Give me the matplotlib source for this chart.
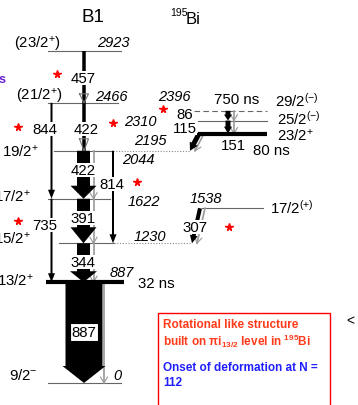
import numpy as np
import matplotlib
matplotlib.use('Agg')
from matplotlib import pyplot as plt
from matplotlib.patches import Rectangle

plt.rcParams['font.family'] = ['Liberation Sans', 'DejaVu Sans']
plt.rcParams['mathtext.fontset'] = 'custom'
plt.rcParams['mathtext.rm'] = 'Liberation Sans'
plt.rcParams['mathtext.it'] = 'Liberation Sans:italic'
plt.rcParams['mathtext.bf'] = 'Liberation Sans:bold'

# ---- level data (keV) ----
level_E = [0, 887, 1230, 1622, 2044, 2466, 2923, 2195, 2310, 2396, 1538]
level_spin = [r'9/2$^{-}$', r'13/2$^{+}$', r'15/2$^{+}$', r'17/2$^{+}$', r'19/2$^{+}$',
              r'(21/2$^{+}$)', r'(23/2$^{+}$)', r'23/2$^{+}$', r'25/2$^{(-)}$',
              r'29/2$^{(-)}$', r'17/2$^{(+)}$']
level_life = {887: '32 ns', 2195: '80 ns', 2396: '750 ns'}

# ---- gamma transitions (keV) ----
gamma_E = [457, 844, 422, 422, 391, 814, 735, 344, 887, 86, 115, 151, 307]
gamma_from = [2923, 2466, 2466, 2044, 1622, 2044, 1622, 1230, 887, 2396, 2310, 2195, 1538]
gamma_to = [2466, 1622, 2044, 1622, 1230, 1230, 887, 887, 0, 2310, 2195, 2044, 1230]

# ---- layout (pixels, y=384 px is E=0, 0.1136 px/keV) ----
K = 0.1136
Y0 = 384.0
def E2py(E):
    return Y0 - K*E
def py2E(y):
    return (Y0 - y)/K

# level drawing: x start, solid end, dotted end, style
lev_x = {0: (48, 121, None, 'thin'), 887: (46, 124, None, 'thick'),
         1230: (59, 114, 190, 'thin'), 1622: (48, 110, None, 'thin'),
         2044: (54, 113, 190, 'thin'), 2466: (48, 118, None, 'thin'),
         2923: (48, 121, None, 'thin'), 2195: (198, 267, None, 'thick'),
         2310: (198, 267, None, 'thin'), 2396: (194, 267, None, 'dash'),
         1538: (202, 263, None, 'thin')}
# label positions (left x, y px)
spin_pos = {0: (9, 376), 887: (-3, 281), 1230: (-6, 239), 1622: (-6, 197),
            2044: (2, 152), 2466: (16, 97), 2923: (14, 44), 2195: (277, 136),
            2310: (277, 119), 2396: (275, 101), 1538: (270, 208)}
energy_pos = {0: (113, 376), 887: (110, 273), 1230: (134, 237), 1622: (128, 202),
              2044: (122, 160), 2466: (95, 97), 2923: (97, 43), 2195: (134, 141),
              2310: (124, 122), 2396: (158, 97), 1538: (190, 199)}
life_pos = {887: (138, 284), 2195: (253, 151), 2396: (214, 100)}

# gamma arrows: x start, x end, shaft w, head w, head len, kind, conv offset
g_style = [
    (84, 84, 3.5, 9, 9, 'open', None),
    (51.5, 51.5, 2, 7, 9, 'solid', None),
    (84, 84, 3.5, 9, 12, 'open', None),
    (83.5, 83.5, 13, 26, 13, 'solid', 10),
    (83.5, 83.5, 13, 26, 16, 'solid', 10),
    (113, 113, 2, 7, 9, 'solid', None),
    (51.5, 51.5, 2, 7, 9, 'solid', None),
    (83.5, 83.5, 13, 27, 11, 'solid', 10),
    (84, 84, 37, 43, 17, 'solid', 20),
    (228, 228, 5, 8, 6, 'solid', 6),
    (228, 228, 5, 8, 7, 'solid', 6),
    (199, 190, 5, 9, 8, 'solid', 5),
    (200, 192, 4, 8, 8, 'solid', 5),
]
g_label = [(83, 79), (45, 130), (86, 130), (83, 171), (83, 219), (112, 185),
           (45, 226), (83, 263), (84, 333), (185, 115), (185, 129), (233, 146), (195, 228)]
star_pos = [(57, 75), (18, 128), (113, 124), (163, 110), (137, 183), (18, 222), (229, 228)]

fig = plt.figure(figsize=(3.58, 4.06), dpi=100)
ax = fig.add_axes([0, 0, 1, 1])
ax.set_xlim(0, 358)
ax.set_ylim(py2E(406), py2E(0))
ax.axis('off')


def poly_px(pts, **kw):
    pts = np.asarray(pts, dtype=float)
    ax.fill(pts[:, 0], py2E(pts[:, 1]), **kw)


def arrow(x0, E0, x1, E1, w, hw, hl, kind, color='black', z=3):
    p0 = np.array([x0, E2py(E0)])
    p1 = np.array([x1, E2py(E1)])
    d = p1 - p0
    u = d/np.linalg.norm(d)
    n = np.array([-u[1], u[0]])
    b = p1 - u*hl
    if kind == 'solid':
        pts = [p0 + n*w/2, b + n*w/2, b + n*hw/2, p1, b - n*hw/2, b - n*w/2, p0 - n*w/2]
        poly_px(pts, color=color, lw=0, zorder=z)
    else:
        ax.plot([x0, x1], [E0, E1], color=color, lw=w*0.72, solid_capstyle='butt', zorder=z)
        tri = np.array([b + n*hw/2, p1, b - n*hw/2, b + n*hw/2])
        ax.plot(tri[:, 0], py2E(tri[:, 1]), color='#777777', lw=0.8, zorder=z+1)


def conv_arrow(x0, E0, x1, E1, off, hl):
    # thin grey arrow for the converted part
    p0 = np.array([x0 + off, E2py(E0)])
    p1 = np.array([x1 + off, E2py(E1)])
    d = p1 - p0
    u = d/np.linalg.norm(d)
    n = np.array([-u[1], u[0]])
    b = p1 - u*min(hl, 6)
    ax.plot([p0[0], p1[0]], py2E(np.array([p0[1], p1[1]])), color='#9a9a9a', lw=1.2, zorder=2)
    tri = np.array([b + n*3.5, p1, b - n*3.5])
    ax.plot(tri[:, 0], py2E(tri[:, 1]), color='#9a9a9a', lw=0.8, zorder=2)


# levels
for E in level_E:
    xa, xb, xd, st = lev_x[E]
    if st == 'thick':
        ax.plot([xa, xb], [E, E], color='black', lw=3, solid_capstyle='butt', zorder=4)
    elif st == 'dash':
        ax.plot([xa, xb], [E, E], color='#666666', lw=0.8, ls=(0, (5, 3)), zorder=1)
    else:
        ax.plot([xa, xb], [E, E], color='#666666', lw=0.8, zorder=1)
    if xd is not None:
        ax.plot([xb, xd], [E, E], color='#888888', lw=0.8, ls=(0, (1, 1.5)), zorder=1)

# gammas
for i, Eg in enumerate(gamma_E):
    xa, xb, w, hw, hl, kind, conv = g_style[i]
    if conv is not None:
        conv_arrow(xa, gamma_from[i], xb, gamma_to[i], conv, hl)
    arrow(xa, gamma_from[i], xb, gamma_to[i], w, hw, hl, kind)
    lx, ly = g_label[i]
    if Eg == 887:
        ax.text(lx, py2E(ly), str(Eg), fontsize=10.8, ha='center', va='center', zorder=6,
                bbox=dict(boxstyle='square,pad=0.12', fc='white', ec='black', lw=0.8))
    else:
        ax.text(lx, py2E(ly), str(Eg), fontsize=10.8, ha='center', va='center', zorder=6,
                bbox=dict(boxstyle='square,pad=0.02', fc='white', ec='none'))

# level labels
for i, E in enumerate(level_E):
    sx, sy = spin_pos[E]
    ax.text(sx, py2E(sy), level_spin[i], fontsize=10.8, ha='left', va='center')
    ex, ey = energy_pos[E]
    ax.text(ex, py2E(ey), str(E), fontsize=10.5, style='italic', ha='left', va='center')
for E, s in level_life.items():
    lx, ly = life_pos[E]
    ax.text(lx, py2E(ly), s, fontsize=10.8, ha='left', va='center')

# red stars
for sx, sy in star_pos:
    ax.plot(sx, py2E(sy), marker='*', color='red', markersize=5.5, mec='red', zorder=7)

# headers
ax.text(93, py2E(18), 'B1', fontsize=13.5, ha='center', va='center')
ax.text(170, py2E(13), '195', fontsize=7.5, ha='left', va='center')
ax.text(186, py2E(19), 'Bi', fontsize=12, ha='left', va='center')
ax.text(-1, py2E(80), 's', fontsize=9, color='#6a1fd0', fontweight='bold', ha='left', va='center')
ax.text(346, py2E(321), '<', fontsize=10, ha='left', va='center')

# comment box
ax.add_patch(Rectangle((158, py2E(440)), 172, py2E(314) - py2E(440), fc='white', ec='red', lw=1.0, zorder=5))
ax.text(163, py2E(325), 'Rotational like structure', fontsize=8.5, fontweight='bold',
        color='#ff3b1a', ha='left', va='center', zorder=6)
ax.text(163, py2E(341), r'built on $\mathbf{\pi i_{13/2}}$ level in $\mathbf{^{195}}$Bi', fontsize=8.5,
        fontweight='bold', color='#ff3b1a', ha='left', va='center', zorder=6)
ax.text(163, py2E(368), 'Onset of deformation at N =', fontsize=8.5, fontweight='bold',
        color='#2020ff', ha='left', va='center', zorder=6)
ax.text(163, py2E(383), '112', fontsize=8.5, fontweight='bold',
        color='#2020ff', ha='left', va='center', zorder=6)

plt.savefig('out.png', dpi=100)
plt.close()
